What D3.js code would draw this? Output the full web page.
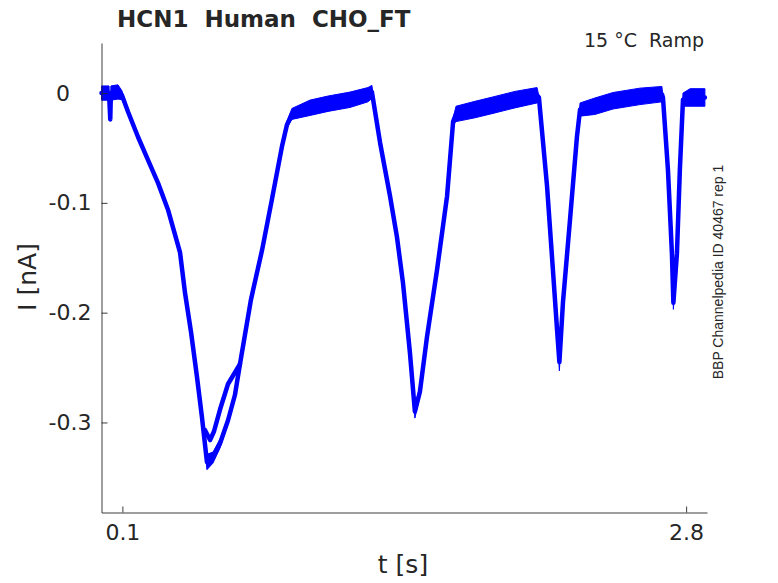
<!DOCTYPE html>
<html>
<head>
<meta charset="utf-8">
<script src="https://cdn.jsdelivr.net/npm/d3@7/dist/d3.min.js"></script>
<style>
  body { margin: 0; background: #fff; }
  svg { display: block; }
  text { font-family: "DejaVu Sans", sans-serif; fill: #262626; }
</style>
</head>
<body>
<div id="chart"></div>
<script>
// ---- data ----
// time in seconds
const timeS = [
  0.000, 0.036, 0.042, 0.045, 0.079, 0.098, 0.127, 0.175, 0.223, 0.271,
  0.318, 0.376, 0.400, 0.429, 0.457, 0.481, 0.505, 0.534, 0.568, 0.606,
  0.639, 0.663, 0.716, 0.769, 0.816, 0.864, 0.888, 0.912, 0.999, 1.085,
  1.190, 1.276, 1.295, 1.334, 1.382, 1.415, 1.444, 1.477, 1.501, 1.525,
  1.559, 1.607, 1.655, 1.684, 1.698, 1.789, 1.875, 1.980, 2.086, 2.095,
  2.134, 2.162, 2.182, 2.193, 2.210, 2.244, 2.277, 2.292, 2.363, 2.450,
  2.579, 2.684, 2.689, 2.713, 2.732, 2.739, 2.756, 2.770, 2.785, 2.819,
  2.890
];
// mean current in nA
const currentNA = [
  0.000, 0.000, -0.024, 0.000, 0.001, -0.002, -0.017, -0.040, -0.061, -0.082,
  -0.106, -0.145, -0.182, -0.218, -0.258, -0.295, -0.336, -0.332, -0.319, -0.298,
  -0.275, -0.247, -0.188, -0.143, -0.097, -0.049, -0.029, -0.019, -0.0134, -0.0097,
  -0.0061, -0.0015, 0.001, -0.045, -0.094, -0.131, -0.173, -0.236, -0.290, -0.272,
  -0.222, -0.161, -0.094, -0.026, -0.019, -0.015, -0.011, -0.006, -0.002, -0.004,
  -0.085, -0.161, -0.216, -0.245, -0.191, -0.115, -0.040, -0.015, -0.012, -0.007,
  -0.003, -0.001, -0.004, -0.070, -0.146, -0.191, -0.146, -0.070, -0.006, -0.004,
  -0.004
];
// noise half-spread in nA
const noiseNA = [
  0.0065, 0.0065, 0.0000, 0.0065, 0.0065, 0.0040, 0.0015, 0.0020, 0.0020, 0.0020,
  0.0020, 0.0015, 0.0015, 0.0015, 0.0020, 0.0035, 0.0070, 0.0050, 0.0040, 0.0030,
  0.0030, 0.0020, 0.0015, 0.0015, 0.0015, 0.0015, 0.0030, 0.0050, 0.0070, 0.0070,
  0.0070, 0.0065, 0.0060, 0.0010, 0.0010, 0.0010, 0.0010, 0.0015, 0.0060, 0.0040,
  0.0010, 0.0010, 0.0010, 0.0030, 0.0070, 0.0075, 0.0075, 0.0075, 0.0070, 0.0010,
  0.0010, 0.0010, 0.0030, 0.0080, 0.0010, 0.0010, 0.0010, 0.0060, 0.0075, 0.0075,
  0.0075, 0.0070, 0.0010, 0.0005, 0.0010, 0.0060, 0.0005, 0.0005, 0.0060, 0.0080,
  0.0080
];
// second sweep separating near the first trough
const branchTimeS = [0.496, 0.520, 0.539, 0.568, 0.606, 0.663];
const branchNA    = [-0.307, -0.316, -0.308, -0.288, -0.265, -0.247];

const xTicks = [0.1, 2.8];
const yTicks = [0, -0.1, -0.2, -0.3];
const titleText = "HCN1  Human  CHO_FT";
const cornerText = "15 °C  Ramp";
const sideText = "BBP Channelpedia ID 40467 rep 1";

// ---- chart ----
const W = 778, H = 583;
const svg = d3.select("#chart").append("svg").attr("width", W).attr("height", H);

const x = d3.scaleLinear().domain([0, 2.9]).range([101.5, 707]);
const y = d3.scaleLinear().domain([-0.382, 0.0456]).range([512.5, 43]);

const pts = timeS.map((t, i) => ({ t, v: currentNA[i], s: noiseNA[i] }));
const band = d3.area()
  .x(d => x(d.t))
  .y0(d => y(d.v - d.s))
  .y1(d => y(d.v + d.s));
svg.append("path")
  .datum(pts)
  .attr("d", band)
  .attr("fill", "#0000ff")
  .attr("stroke", "#0000ff")
  .attr("stroke-width", 1)
  .attr("stroke-linejoin", "round");

const trace = d3.line().x(d => x(d.t)).y(d => y(d.v));
svg.append("path")
  .datum(pts)
  .attr("d", trace)
  .attr("fill", "none")
  .attr("stroke", "#0000ff")
  .attr("stroke-width", 4.5)
  .attr("stroke-linejoin", "round")
  .attr("stroke-linecap", "round");

const branch = branchTimeS.map((t, i) => ({ t, v: branchNA[i] }));
svg.append("path")
  .datum(branch)
  .attr("d", trace)
  .attr("fill", "none")
  .attr("stroke", "#0000ff")
  .attr("stroke-width", 4.5)
  .attr("stroke-linejoin", "round")
  .attr("stroke-linecap", "round");

// axes
const yAxis = d3.axisLeft(y).tickValues(yTicks)
  .tickFormat(d => d === 0 ? "0" : d3.format(".1f")(d).replace("−", "-"))
  .tickSizeInner(-6).tickSizeOuter(0).tickPadding(10);
const gy = svg.append("g").attr("transform", "translate(101.5,0)").call(yAxis);
gy.select(".domain").attr("stroke", "#262626").attr("stroke-width", 0.9);
gy.selectAll(".tick line").attr("stroke", "#262626").attr("stroke-width", 0.9);
gy.selectAll(".tick text")
  .attr("font-family", "DejaVu Sans").attr("font-size", 22).attr("fill", "#262626")
  .filter(d => d === 0).attr("x", -31.5);

const xAxis = d3.axisBottom(x).tickValues(xTicks)
  .tickFormat(d3.format(".1f"))
  .tickSizeInner(-6).tickSizeOuter(0).tickPadding(12);
const gx = svg.append("g").attr("transform", "translate(0,512.5)").call(xAxis);
gx.select(".domain").attr("stroke", "#262626").attr("stroke-width", 0.9);
gx.selectAll(".tick line").attr("stroke", "#262626").attr("stroke-width", 0.9);
gx.selectAll(".tick text")
  .attr("font-family", "DejaVu Sans").attr("font-size", 22).attr("fill", "#262626");

// labels
svg.append("text").attr("x", 403).attr("y", 573).attr("text-anchor", "middle")
  .attr("font-size", 25).text("t [s]");
svg.append("text").attr("transform", "translate(36,277) rotate(-90)")
  .attr("text-anchor", "middle").attr("font-size", 25).text("I [nA]");

svg.append("text").attr("x", 117).attr("y", 27)
  .attr("font-size", 23).attr("font-weight", "bold").attr("fill", "#000")
  .style("white-space", "pre").text(titleText);

svg.append("text").attr("x", 704).attr("y", 47).attr("text-anchor", "end")
  .attr("font-size", 19).attr("fill", "#000")
  .style("white-space", "pre").text(cornerText);

svg.append("text").attr("transform", "translate(723,272) rotate(-90)")
  .attr("text-anchor", "middle").attr("font-size", 14)
  .style("font-family", "'Liberation Sans', Arial, sans-serif").attr("fill", "#000")
  .text(sideText);
</script>
</body>
</html>
